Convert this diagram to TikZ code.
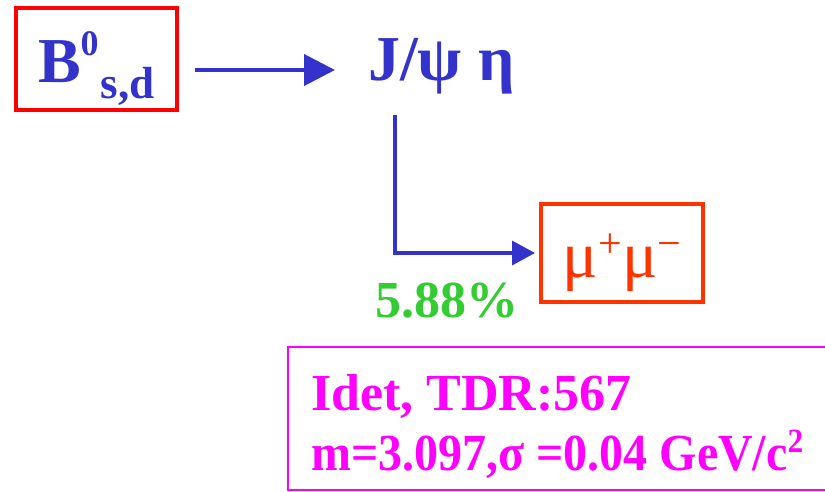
\documentclass[tikz,border=0pt]{standalone}
\usepackage{fontspec}
\usepackage{graphicx}
\setmainfont{Liberation Serif}
\usetikzlibrary{arrows.meta,calc}
\definecolor{dblue}{HTML}{3333CC}
\definecolor{bred}{HTML}{FF0000}
\definecolor{ored}{HTML}{FF3300}
\definecolor{lgreen}{HTML}{33CC33}
\definecolor{mag}{HTML}{FF00FF}
\newcommand\fsz[1]{\fontsize{#1}{#1}\selectfont}
\tikzset{
  redbox/.style={draw=bred, line width=4pt, inner sep=0pt, text=dblue, font=\bfseries},
  mubox/.style={draw=ored, line width=4pt, inner sep=0pt, text=ored},
  infobox/.style={draw=mag, line width=2pt, inner sep=0pt},
  plain/.style={inner sep=0pt, font=\bfseries},
  barrow/.style={draw=dblue, line width=4pt, -{Triangle[length=31pt,width=31pt]}},
  carrow/.style={draw=dblue, line width=3.5pt, -{Triangle[length=23pt,width=24pt]}}
}
\begin{document}
\begin{tikzpicture}[x=1pt,y=-1pt]
\useasboundingbox (0,0) rectangle (825,492);
\clip (0,0) rectangle (825,492);
\fill[white] (0,0) rectangle (825,492);
% B box
\node[redbox, minimum width=161.5pt, minimum height=102pt, text height=50pt, text depth=2pt]
  (bbox) at (96.25,59) {\fsz{64}B\raisebox{27pt}{\fsz{36}0}\kern2pt\raisebox{-16pt}{\fsz{45}s,d}};
% J/psi eta
\node[plain, text=dblue, anchor=base west] (jpsi) at (368,81) {\fsz{64}J/ψ η};
% mu box
\node[mubox, minimum width=162pt, minimum height=98pt, text height=50pt, text depth=2pt]
  (mu) at (622,253) {\fsz{66}μ\raisebox{20pt}{\fsz{42}+}μ\raisebox{20pt}{\fsz{42}−}};
% percentage
\node[plain, text=lgreen, anchor=base west] (pct) at (375,317) {\fsz{52}5.88\%};
% info box
\node[infobox, anchor=north west, minimum width=560pt, minimum height=143pt] (info) at (287,346) {};
\node[plain, text=mag, anchor=base west] (l1) at (311,410) {\fsz{52}Idet, TDR:567};
\node[plain, text=mag, anchor=base west] (l2) at (311,470)
  {\resizebox{492pt}{\height}{\fsz{52}m=3.097,σ =0.04 GeV/c\raisebox{18pt}{\fsz{34}2}}};
% connectors
\draw[barrow] ($(bbox.east)+(16,11)$) -- ($(jpsi.base west)+(-33,-11)$);
\draw[carrow] ($(jpsi.base west)+(27,34)$) |- ([xshift=-4pt]mu.west);
\end{tikzpicture}
\end{document}
